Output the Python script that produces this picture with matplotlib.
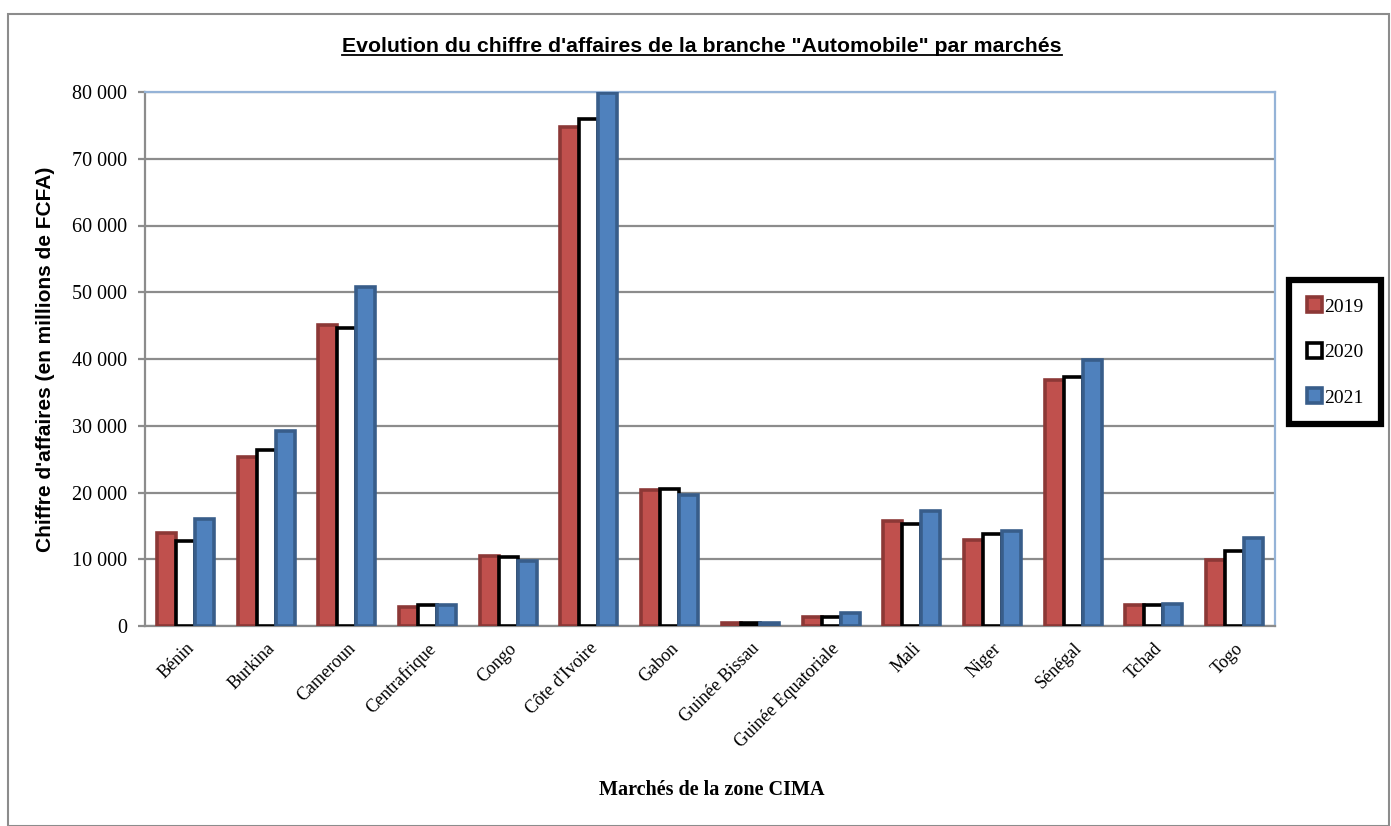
import numpy as np
import matplotlib
matplotlib.use("Agg")
import matplotlib.pyplot as plt
from matplotlib.patches import Rectangle
from matplotlib.lines import Line2D
from matplotlib.ticker import FuncFormatter

# Data (millions de FCFA)
marches = ["Bénin", "Burkina", "Cameroun", "Centrafrique", "Congo", "Côte d'Ivoire",
           "Gabon", "Guinée Bissau", "Guinée Equatoriale", "Mali", "Niger",
           "Sénégal", "Tchad", "Togo"]
ca_2019 = [13900, 25300, 45100, 2800, 10500, 74800, 20300, 450, 1300, 15800, 12900, 36900, 3100, 9900]
ca_2020 = [12800, 26400, 44700, 3200, 10300, 76000, 20500, 450, 1400, 15300, 13800, 37300, 3100, 11300]
ca_2021 = [16100, 29200, 50800, 3100, 9800, 79900, 19700, 450, 1900, 17300, 14200, 39800, 3300, 13200]
annees = ["2019", "2020", "2021"]

serif = ["Liberation Serif", "DejaVu Serif"]
sans = ["Liberation Sans", "DejaVu Sans"]

fig = plt.figure(figsize=(13.91, 8.26), dpi=100)
ax = fig.add_axes([145 / 1391, 1 - 626 / 826, 1130 / 1391, 534 / 826])

# outer chart frame
fig.patches.append(Rectangle((8 / 1391, 0.0), 1381 / 1391, (826 - 14) / 826,
                             transform=fig.transFigure, fill=False,
                             edgecolor="#8c8c8c", linewidth=1.5))

x = np.arange(len(marches))
w = 0.235
styles = [
    dict(facecolor="#C0504D", edgecolor="#8C3836"),
    dict(facecolor="white", edgecolor="black"),
    dict(facecolor="#4F81BD", edgecolor="#385D8A"),
]
for i, (vals, st) in enumerate(zip([ca_2019, ca_2020, ca_2021], styles)):
    ax.bar(x + (i - 1) * w, vals, width=w, linewidth=2.6, label=annees[i],
           zorder=3, **st)

ax.set_xlim(-0.5, len(marches) - 0.5)
ax.set_ylim(0, 80000)
ax.set_yticks(np.arange(0, 80001, 10000))
ax.yaxis.set_major_formatter(FuncFormatter(lambda v, p: f"{int(v):,}".replace(",", " ")))
ax.grid(axis="y", color="#8c8c8c", linewidth=1.6, zorder=0)
ax.set_axisbelow(True)

for s in ["left", "bottom"]:
    ax.spines[s].set_color("#8c8c8c")
    ax.spines[s].set_linewidth(1.6)
for s in ["top", "right"]:
    ax.spines[s].set_color("#95B3D7")
    ax.spines[s].set_linewidth(1.6)

ax.tick_params(axis="y", direction="out", length=5, width=1.6, color="#8c8c8c",
               labelsize=14.5, pad=8)
ax.tick_params(axis="x", length=0, pad=10)
for lab in ax.get_yticklabels():
    lab.set_family(serif)

ax.set_xticks(x)
ax.set_xticklabels(marches, rotation=45, ha="right", rotation_mode="anchor",
                   fontsize=13, family=serif)

ax.set_ylabel("Chiffre d'affaires (en millions de FCFA)", fontsize=15,
              fontweight="bold", family=sans, labelpad=12)

fig.text(712 / 1391, 1 - 790 / 826, "Marchés de la zone CIMA", ha="center",
         va="center", fontsize=14.5, fontweight="bold", family=serif)

title = fig.text(702 / 1391, 1 - 47 / 826,
                 "Evolution du chiffre d'affaires de la branche \"Automobile\" par marchés",
                 ha="center", va="center", fontsize=15.3, fontweight="bold", family=sans)

leg = ax.legend(loc="center left", bbox_to_anchor=(1289 / 1391, 1 - 352 / 826),
                bbox_transform=fig.transFigure, frameon=True, fancybox=False,
                framealpha=1, prop={"family": serif, "size": 14}, handlelength=0.8,
                handleheight=0.8, handletextpad=0.1, labelspacing=1.4,
                borderpad=0.9, borderaxespad=0)
leg.get_frame().set_edgecolor("black")
leg.get_frame().set_linewidth(4.5)

# underline the title
fig.canvas.draw()
bb = title.get_window_extent(fig.canvas.get_renderer()).transformed(fig.transFigure.inverted())
fig.add_artist(Line2D([bb.x0, bb.x1], [bb.y0 + 0.002, bb.y0 + 0.002],
                      transform=fig.transFigure, color="black", linewidth=1.3))

fig.savefig("out.png", dpi=100)
